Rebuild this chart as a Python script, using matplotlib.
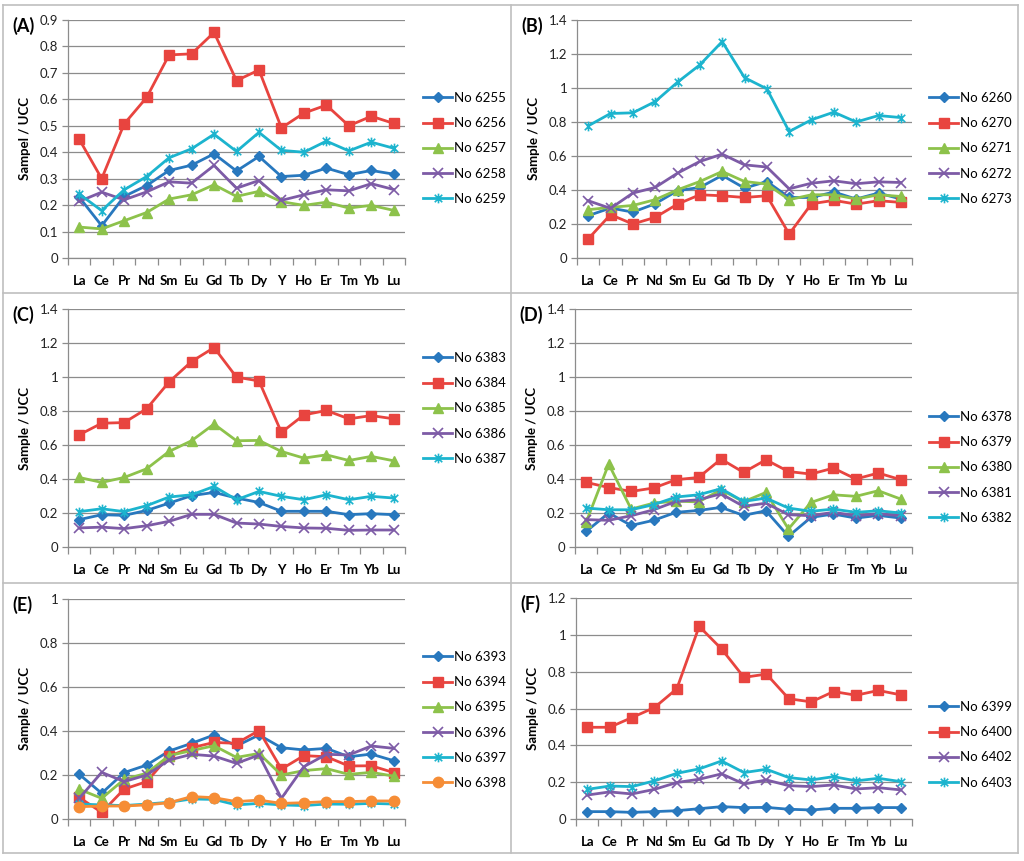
import matplotlib
matplotlib.use("Agg")
import matplotlib.pyplot as plt
from matplotlib.path import Path
from matplotlib.lines import Line2D
from matplotlib.ticker import FuncFormatter, FixedLocator

plt.rcParams['font.family'] = ['Lato', 'DejaVu Sans']

elements = ["La", "Ce", "Pr", "Nd", "Sm", "Eu", "Gd", "Tb", "Dy", "Y", "Ho", "Er", "Tm", "Yb", "Lu"]

# Panel A
a_names = ["No 6255", "No 6256", "No 6257", "No 6258", "No 6259"]
a_6255 = [0.23, 0.122, 0.233, 0.274, 0.331, 0.351, 0.394, 0.329, 0.384, 0.308, 0.313, 0.34, 0.315, 0.331, 0.317]
a_6256 = [0.449, 0.30, 0.507, 0.607, 0.768, 0.772, 0.853, 0.671, 0.711, 0.492, 0.548, 0.578, 0.50, 0.536, 0.509]
a_6257 = [0.117, 0.11, 0.141, 0.172, 0.223, 0.239, 0.277, 0.233, 0.252, 0.213, 0.199, 0.211, 0.189, 0.199, 0.18]
a_6258 = [0.214, 0.249, 0.22, 0.25, 0.288, 0.283, 0.35, 0.264, 0.293, 0.218, 0.239, 0.258, 0.254, 0.281, 0.259]
a_6259 = [0.242, 0.179, 0.258, 0.308, 0.379, 0.413, 0.468, 0.403, 0.475, 0.407, 0.40, 0.442, 0.405, 0.438, 0.415]

# Panel B
b_names = ["No 6260", "No 6270", "No 6271", "No 6272", "No 6273"]
b_6260 = [0.249, 0.294, 0.27, 0.319, 0.396, 0.415, 0.486, 0.411, 0.45, 0.356, 0.356, 0.388, 0.347, 0.382, 0.347]
b_6270 = [0.112, 0.255, 0.2, 0.239, 0.317, 0.372, 0.366, 0.356, 0.366, 0.141, 0.319, 0.339, 0.317, 0.337, 0.327]
b_6271 = [0.284, 0.298, 0.309, 0.343, 0.401, 0.45, 0.509, 0.45, 0.435, 0.343, 0.372, 0.372, 0.347, 0.372, 0.362]
b_6272 = [0.337, 0.292, 0.382, 0.415, 0.499, 0.568, 0.611, 0.548, 0.535, 0.407, 0.44, 0.454, 0.437, 0.448, 0.444]
b_6273 = [0.777, 0.85, 0.854, 0.92, 1.034, 1.136, 1.273, 1.061, 0.995, 0.744, 0.813, 0.858, 0.80, 0.838, 0.826]

# Panel C
c_names = ["No 6383", "No 6384", "No 6385", "No 6386", "No 6387"]
c_6383 = [0.161, 0.19, 0.186, 0.215, 0.258, 0.302, 0.321, 0.288, 0.262, 0.21, 0.21, 0.21, 0.19, 0.196, 0.19]
c_6384 = [0.66, 0.728, 0.732, 0.813, 0.971, 1.091, 1.173, 0.999, 0.977, 0.674, 0.777, 0.803, 0.754, 0.773, 0.754]
c_6385 = [0.409, 0.38, 0.409, 0.46, 0.562, 0.625, 0.723, 0.625, 0.627, 0.562, 0.523, 0.542, 0.509, 0.533, 0.507]
c_6386 = [0.112, 0.117, 0.108, 0.125, 0.151, 0.192, 0.192, 0.141, 0.135, 0.121, 0.112, 0.11, 0.098, 0.10, 0.10]
c_6387 = [0.208, 0.225, 0.208, 0.243, 0.294, 0.307, 0.356, 0.278, 0.327, 0.298, 0.278, 0.307, 0.278, 0.298, 0.288]

# Panel D
d_names = ["No 6378", "No 6379", "No 6380", "No 6381", "No 6382"]
d_6378 = [0.092, 0.20, 0.127, 0.157, 0.204, 0.215, 0.233, 0.186, 0.213, 0.063, 0.174, 0.194, 0.17, 0.186, 0.17]
d_6379 = [0.38, 0.35, 0.327, 0.347, 0.396, 0.409, 0.517, 0.439, 0.513, 0.444, 0.429, 0.464, 0.40, 0.435, 0.396]
d_6380 = [0.147, 0.488, 0.223, 0.258, 0.27, 0.265, 0.337, 0.266, 0.321, 0.106, 0.262, 0.307, 0.298, 0.331, 0.282]
d_6381 = [0.161, 0.157, 0.184, 0.219, 0.268, 0.278, 0.313, 0.239, 0.258, 0.19, 0.184, 0.204, 0.184, 0.196, 0.184]
d_6382 = [0.229, 0.219, 0.219, 0.249, 0.294, 0.307, 0.343, 0.268, 0.288, 0.229, 0.21, 0.223, 0.204, 0.213, 0.20]

# Panel E
e_names = ["No 6393", "No 6394", "No 6395", "No 6396", "No 6397", "No 6398"]
e_6393 = [0.203, 0.117, 0.211, 0.245, 0.309, 0.344, 0.382, 0.332, 0.382, 0.324, 0.314, 0.321, 0.283, 0.295, 0.265]
e_6394 = [0.098, 0.03, 0.136, 0.17, 0.286, 0.324, 0.348, 0.344, 0.402, 0.227, 0.288, 0.283, 0.241, 0.242, 0.211]
e_6395 = [0.135, 0.094, 0.18, 0.208, 0.288, 0.311, 0.333, 0.28, 0.298, 0.20, 0.22, 0.229, 0.203, 0.212, 0.195]
e_6396 = [0.094, 0.212, 0.17, 0.20, 0.268, 0.294, 0.286, 0.253, 0.291, 0.094, 0.238, 0.294, 0.291, 0.332, 0.321]
e_6397 = [0.068, 0.064, 0.061, 0.068, 0.076, 0.091, 0.089, 0.064, 0.071, 0.064, 0.061, 0.068, 0.067, 0.071, 0.068]
e_6398 = [0.056, 0.059, 0.059, 0.064, 0.074, 0.102, 0.097, 0.079, 0.086, 0.071, 0.074, 0.079, 0.079, 0.082, 0.082]

# Panel F
f_names = ["No 6399", "No 6400", "No 6402", "No 6403"]
f_6399 = [0.04, 0.04, 0.036, 0.04, 0.045, 0.056, 0.067, 0.062, 0.063, 0.053, 0.049, 0.058, 0.058, 0.062, 0.062]
f_6400 = [0.498, 0.498, 0.551, 0.605, 0.707, 1.046, 0.923, 0.769, 0.787, 0.653, 0.636, 0.692, 0.672, 0.698, 0.674]
f_6402 = [0.13, 0.147, 0.136, 0.161, 0.198, 0.216, 0.245, 0.19, 0.212, 0.181, 0.176, 0.185, 0.163, 0.17, 0.158]
f_6403 = [0.161, 0.179, 0.176, 0.207, 0.248, 0.272, 0.315, 0.252, 0.27, 0.225, 0.212, 0.23, 0.207, 0.221, 0.203]

BLUE = '#2878BE'
RED = '#E8443F'
GREEN = '#8DC24B'
PURPLE = '#7D5BA6'
CYAN = '#1CB4CE'
ORANGE = '#F68D36'

asterisk = Path([(-1, -1), (1, 1), (-1, 1), (1, -1), (0, -1.3), (0, 1.3)],
                [Path.MOVETO, Path.LINETO, Path.MOVETO, Path.LINETO, Path.MOVETO, Path.LINETO])

STY = {
    'blue': dict(color=BLUE, marker='D', ms=5),
    'red': dict(color=RED, marker='s', ms=7.5),
    'green': dict(color=GREEN, marker='^', ms=7.5),
    'purple': dict(color=PURPLE, marker='x', ms=6.5, mew=1.2),
    'cyan': dict(color=CYAN, marker=asterisk, ms=7, mew=1.2),
    'orange': dict(color=ORANGE, marker='o', ms=7.5),
}

W, H = 1024, 861
fig = plt.figure(figsize=(W / 100, H / 100), dpi=100)

# cell borders
bc = '#BFBFBF'
def fline(x0, y0, x1, y1):
    fig.add_artist(Line2D([x0 / W, x1 / W], [1 - y0 / H, 1 - y1 / H], color=bc, lw=1.2))
fline(3, 5, 1018, 5)
fline(3, 853, 1018, 853)
fline(3, 5, 3, 853)
fline(1018, 5, 1018, 853)
fline(511, 5, 511, 853)
fline(3, 293, 1018, 293)
fline(3, 583, 1018, 583)

panels = [
    dict(label='(A)', box=(68, 20, 405, 258), ymax=0.9, step=0.1, ylabel='Sampel / UCC',
         series=[a_6255, a_6256, a_6257, a_6258, a_6259], names=a_names,
         styles=['blue', 'red', 'green', 'purple', 'cyan'], leg=(423, 92)),
    dict(label='(B)', box=(577, 20, 912, 258), ymax=1.4, step=0.2, ylabel='Sample / UCC',
         series=[b_6260, b_6270, b_6271, b_6272, b_6273], names=b_names,
         styles=['blue', 'red', 'green', 'purple', 'cyan'], leg=(929, 92)),
    dict(label='(C)', box=(68, 309, 405, 547), ymax=1.4, step=0.2, ylabel='Sample / UCC',
         series=[c_6383, c_6384, c_6385, c_6386, c_6387], names=c_names,
         styles=['blue', 'red', 'green', 'purple', 'cyan'], leg=(423, 352)),
    dict(label='(D)', box=(575, 309, 912, 547), ymax=1.4, step=0.2, ylabel='Sample / UCC',
         series=[d_6378, d_6379, d_6380, d_6381, d_6382], names=d_names,
         styles=['blue', 'red', 'green', 'purple', 'cyan'], leg=(929, 411)),
    dict(label='(E)', box=(68, 599, 405, 819), ymax=1.0, step=0.2, ylabel='Sample / UCC',
         series=[e_6393, e_6394, e_6395, e_6396, e_6397, e_6398], names=e_names,
         styles=['blue', 'red', 'green', 'purple', 'cyan', 'orange'], leg=(423, 651)),
    dict(label='(F)', box=(576, 598, 912, 819), ymax=1.2, step=0.2, ylabel='Sample / UCC',
         series=[f_6399, f_6400, f_6402, f_6403], names=f_names,
         styles=['blue', 'red', 'purple', 'cyan'], leg=(929, 701)),
]

def fmt(v, pos):
    return ('%g' % round(v, 2))

GRID = '#8C8C8C'
x = list(range(len(elements)))
for p in panels:
    l, t, r, b = p['box']
    ax = fig.add_axes([l / W, 1 - b / H, (r - l) / W, (b - t) / H])
    n = int(round(p['ymax'] / p['step']))
    yt = [i * p['step'] for i in range(n + 1)]
    ax.set_ylim(0, p['ymax'])
    ax.set_xlim(-0.5, len(elements) - 0.5)
    ax.yaxis.set_major_locator(FixedLocator(yt))
    ax.yaxis.set_major_formatter(FuncFormatter(fmt))
    ax.grid(axis='y', color=GRID, lw=0.9)
    ax.set_axisbelow(True)
    for s in ['top', 'right']:
        ax.spines[s].set_visible(False)
    for s in ['left', 'bottom']:
        ax.spines[s].set_color(GRID)
        ax.spines[s].set_linewidth(0.9)
    ax.set_xticks(x)
    ax.set_xticklabels(elements, fontweight='bold', fontsize=9.5)
    ax.set_xticks([i - 0.5 for i in range(len(elements) + 1)], minor=True)
    ax.tick_params(axis='x', which='major', length=0, pad=12)
    ax.tick_params(axis='x', which='minor', length=5, color=GRID, width=0.9, direction='out')
    ax.tick_params(axis='y', length=4, color=GRID, width=0.9, labelsize=9.5, labelcolor='#222222', pad=3)
    ax.set_ylabel(p['ylabel'], fontweight='bold', fontsize=9.5, labelpad=6)
    for data, name, st in zip(p['series'], p['names'], p['styles']):
        s = STY[st]
        ax.plot(x, data, color=s['color'], lw=2.0, marker=s['marker'], ms=s['ms'],
                mew=s.get('mew', 1.0), mfc=s['color'], mec=s['color'], label=name, clip_on=False)
    fig.text((l - 56) / W, 1 - (t + 6) / H, p['label'], fontsize=13, fontweight='bold', va='center', ha='left')
    lx, ly = p['leg']
    ax.legend(loc='upper left', bbox_to_anchor=(lx / W, 1 - ly / H), bbox_transform=fig.transFigure,
              frameon=False, fontsize=9.5, handlelength=2.2, handletextpad=0.15, labelspacing=1.0,
              borderaxespad=0, borderpad=0)

fig.savefig('out.png', dpi=100)
